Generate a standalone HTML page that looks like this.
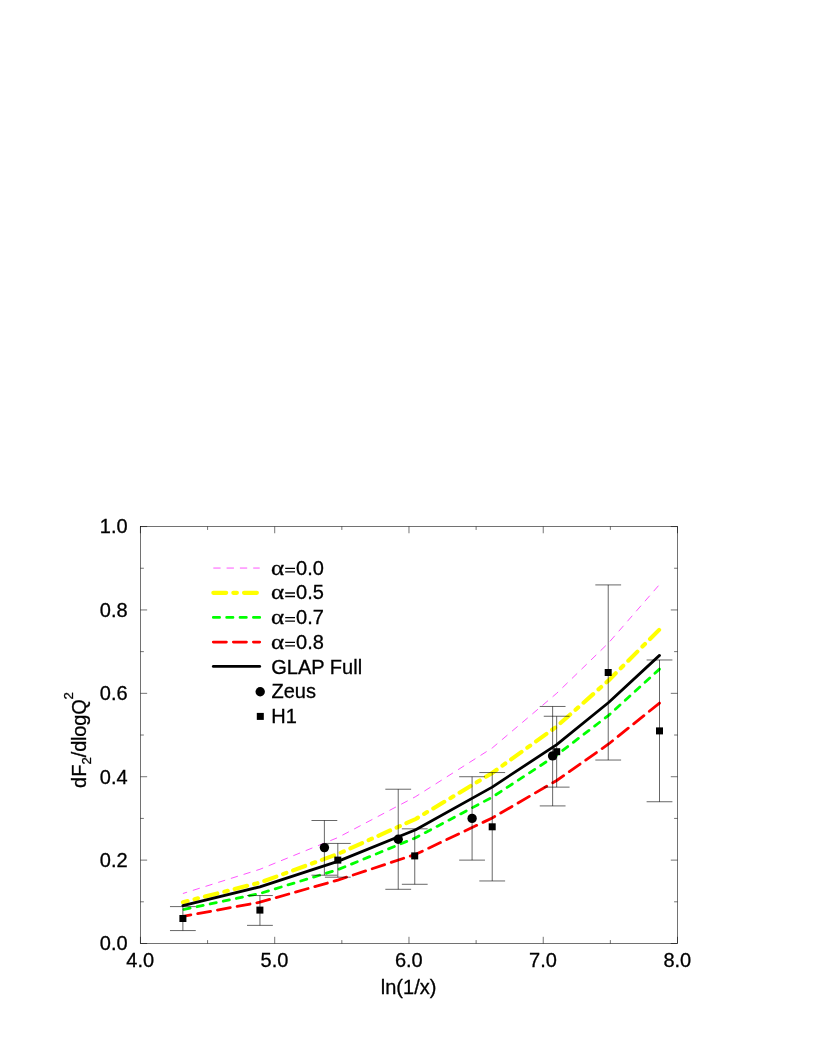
<!DOCTYPE html>
<html><head><meta charset="utf-8"><title>dF2/dlogQ2</title>
<style>html,body{margin:0;padding:0;background:#fff}svg{display:block;will-change:transform}text{font-family:"Liberation Sans",sans-serif;font-size:20px;fill:#000;stroke:#000;stroke-width:0.3px}.sy{font-family:"Liberation Serif",serif}</style>
</head><body>
<svg width="817" height="1058" viewBox="0 0 817 1058">
<rect x="0" y="0" width="817" height="1058" fill="#ffffff"/>
<g stroke="#000" stroke-width="0.55" fill="none">
<rect x="140.45" y="526.55" width="537.05" height="416.95"/>
<path d="M140.45 943.5v-6.7M140.45 526.55v6.7M207.58 943.5v-3.4M207.58 526.55v3.4M274.71 943.5v-6.7M274.71 526.55v6.7M341.84 943.5v-3.4M341.84 526.55v3.4M408.97 943.5v-6.7M408.97 526.55v6.7M476.11 943.5v-3.4M476.11 526.55v3.4M543.24 943.5v-6.7M543.24 526.55v6.7M610.37 943.5v-3.4M610.37 526.55v3.4M677.50 943.5v-6.7M677.50 526.55v6.7M140.45 943.50h6.7M677.5 943.50h-6.7M140.45 901.80h3.4M677.5 901.80h-3.4M140.45 860.11h6.7M677.5 860.11h-6.7M140.45 818.41h3.4M677.5 818.41h-3.4M140.45 776.72h6.7M677.5 776.72h-6.7M140.45 735.02h3.4M677.5 735.02h-3.4M140.45 693.33h6.7M677.5 693.33h-6.7M140.45 651.63h3.4M677.5 651.63h-3.4M140.45 609.94h6.7M677.5 609.94h-6.7M140.45 568.24h3.4M677.5 568.24h-3.4M140.45 526.55h6.7M677.5 526.55h-6.7"/>
</g>
<g text-anchor="end">
<text x="127.6" y="950.35">0.0</text>
<text x="127.6" y="866.96">0.2</text>
<text x="127.6" y="783.57">0.4</text>
<text x="127.6" y="700.18">0.6</text>
<text x="127.6" y="616.79">0.8</text>
<text x="127.6" y="533.40">1.0</text>
</g>
<g text-anchor="middle">
<text x="140.2" y="967">4.0</text>
<text x="274.5" y="967">5.0</text>
<text x="408.8" y="967">6.0</text>
<text x="543.0" y="967">7.0</text>
<text x="677.3" y="967">8.0</text>
<text x="408.6" y="994">ln(1/x)</text>
</g>
<text transform="translate(85.5 787.9) rotate(-90)">dF<tspan font-size="13.2" dy="5.3">2</tspan><tspan dy="-5.3" letter-spacing="-0.2">/dlogQ</tspan><tspan font-size="13.2" dy="-12.7">2</tspan></text>
<polyline points="182.9,893.5 259.9,869.3 337.8,837.6 415.7,796.6 492.2,748.0 556.7,693.3 608.6,642.9 659.5,584.5" fill="none" stroke="#ff00ff" stroke-width="0.67" stroke-dasharray="7.3 6" stroke-dashoffset="2.9"/>
<polyline points="182.9,902.2 259.9,882.6 337.8,854.0 415.7,819.0 492.2,773.0 556.7,726.5 608.6,680.4 659.5,629.5" fill="none" stroke="#ffff00" stroke-width="4.1" stroke-linecap="round" stroke-dasharray="12.9 7.1 3.6 7.1" stroke-dashoffset="8"/>
<polyline points="182.9,909.7 259.9,893.5 337.8,869.7 415.7,837.7 492.2,797.2 556.7,755.0 608.6,715.4 659.5,669.1" fill="none" stroke="#00ff00" stroke-width="2.8" stroke-linecap="round" stroke-dasharray="6.3 7.07" stroke-dashoffset="-1.1"/>
<polyline points="182.9,916.4 259.9,902.2 337.8,880.1 415.7,854.3 492.2,818.0 556.7,780.5 608.6,744.0 659.5,703.1" fill="none" stroke="#ff0000" stroke-width="2.8" stroke-linecap="round" stroke-dasharray="13.1 6.95" stroke-dashoffset="5"/>
<polyline points="182.9,905.6 259.9,886.8 337.8,861.4 415.7,829.7 492.2,787.1 556.7,744.6 608.6,702.5 659.5,655.4" fill="none" stroke="#000000" stroke-width="2.8" stroke-linecap="round" stroke-linejoin="round"/>
<g stroke="#000" stroke-width="0.6" fill="none">
<path d="M324.39 875.20V820.50M311.49 875.20h25.8M311.49 820.50h25.8M398.23 889.30V789.23M385.33 889.30h25.8M385.33 789.23h25.8M472.08 860.11V776.72M459.18 860.11h25.8M459.18 776.72h25.8M552.64 805.91V706.46M539.74 805.91h25.8M539.74 706.46h25.8M182.88 930.57V906.60M169.98 930.57h25.8M169.98 906.60h25.8M259.94 925.36V895.55M247.04 925.36h25.8M247.04 895.55h25.8M337.82 877.20V843.43M324.92 877.20h25.8M324.92 843.43h25.8M414.75 884.29V828.84M401.85 884.29h25.8M401.85 828.84h25.8M492.22 880.96V772.55M479.32 880.96h25.8M479.32 772.55h25.8M556.66 787.14V716.26M543.76 787.14h25.8M543.76 716.26h25.8M608.22 760.04V584.92M595.32 760.04h25.8M595.32 584.92h25.8M659.51 801.74V659.97M646.61 801.74h25.8M646.61 659.97h25.8"/>
</g>
<circle cx="324.4" cy="847.6" r="4.7"/>
<circle cx="398.2" cy="839.3" r="4.7"/>
<circle cx="472.1" cy="818.4" r="4.7"/>
<circle cx="552.6" cy="755.9" r="4.7"/>
<rect x="179.4" y="915.0" width="7" height="7"/>
<rect x="256.4" y="906.6" width="7" height="7"/>
<rect x="334.3" y="856.6" width="7" height="7"/>
<rect x="411.2" y="852.4" width="7" height="7"/>
<rect x="488.7" y="823.3" width="7" height="7"/>
<rect x="553.2" y="748.2" width="7" height="7"/>
<rect x="604.7" y="669.0" width="7" height="7"/>
<rect x="656.0" y="727.4" width="7" height="7"/>
<path d="M213.3 568.05H259.7" fill="none" stroke="#ff00ff" stroke-width="0.67" stroke-dasharray="7.3 6" stroke-dashoffset="0"/>
<path d="M213.3 592.85H259.7" fill="none" stroke="#ffff00" stroke-width="4.1" stroke-linecap="round" stroke-dasharray="12.9 7.1 3.6 7.1" stroke-dashoffset="0"/>
<path d="M213.3 617.45H259.7" fill="none" stroke="#00ff00" stroke-width="2.8" stroke-linecap="round" stroke-dasharray="6.3 7.07" stroke-dashoffset="0"/>
<path d="M213.3 642.1H259.7" fill="none" stroke="#ff0000" stroke-width="2.8" stroke-linecap="round" stroke-dasharray="13.1 6.95" stroke-dashoffset="0"/>
<path d="M213.3 666.45H259.7" fill="none" stroke="#000000" stroke-width="2.8" stroke-linecap="round" stroke-linejoin="round"/>
<text class="sy" transform="translate(271.05 574.60) scale(1.254 1.076)">α</text>
<path d="M285.2 568.35h9.8M285.2 571.85h9.8" stroke="#000" stroke-width="1.3" fill="none"/>
<text x="296.1" y="574.60">0.0</text>
<text class="sy" transform="translate(271.05 599.25) scale(1.254 1.076)">α</text>
<path d="M285.2 593.00h9.8M285.2 596.50h9.8" stroke="#000" stroke-width="1.3" fill="none"/>
<text x="296.1" y="599.25">0.5</text>
<text class="sy" transform="translate(271.05 623.90) scale(1.254 1.076)">α</text>
<path d="M285.2 617.65h9.8M285.2 621.15h9.8" stroke="#000" stroke-width="1.3" fill="none"/>
<text x="296.1" y="623.90">0.7</text>
<text class="sy" transform="translate(271.05 648.55) scale(1.254 1.076)">α</text>
<path d="M285.2 642.30h9.8M285.2 645.80h9.8" stroke="#000" stroke-width="1.3" fill="none"/>
<text x="296.1" y="648.55">0.8</text>
<text x="271.3" y="673.50">GLAP Full</text>
<circle cx="260.2" cy="691.7" r="4.7"/>
<text x="271.5" y="697.85">Zeus</text>
<rect x="256.8" y="712.9" width="7" height="7"/>
<text x="271.3" y="722.50">H1</text>
</svg></body></html>
